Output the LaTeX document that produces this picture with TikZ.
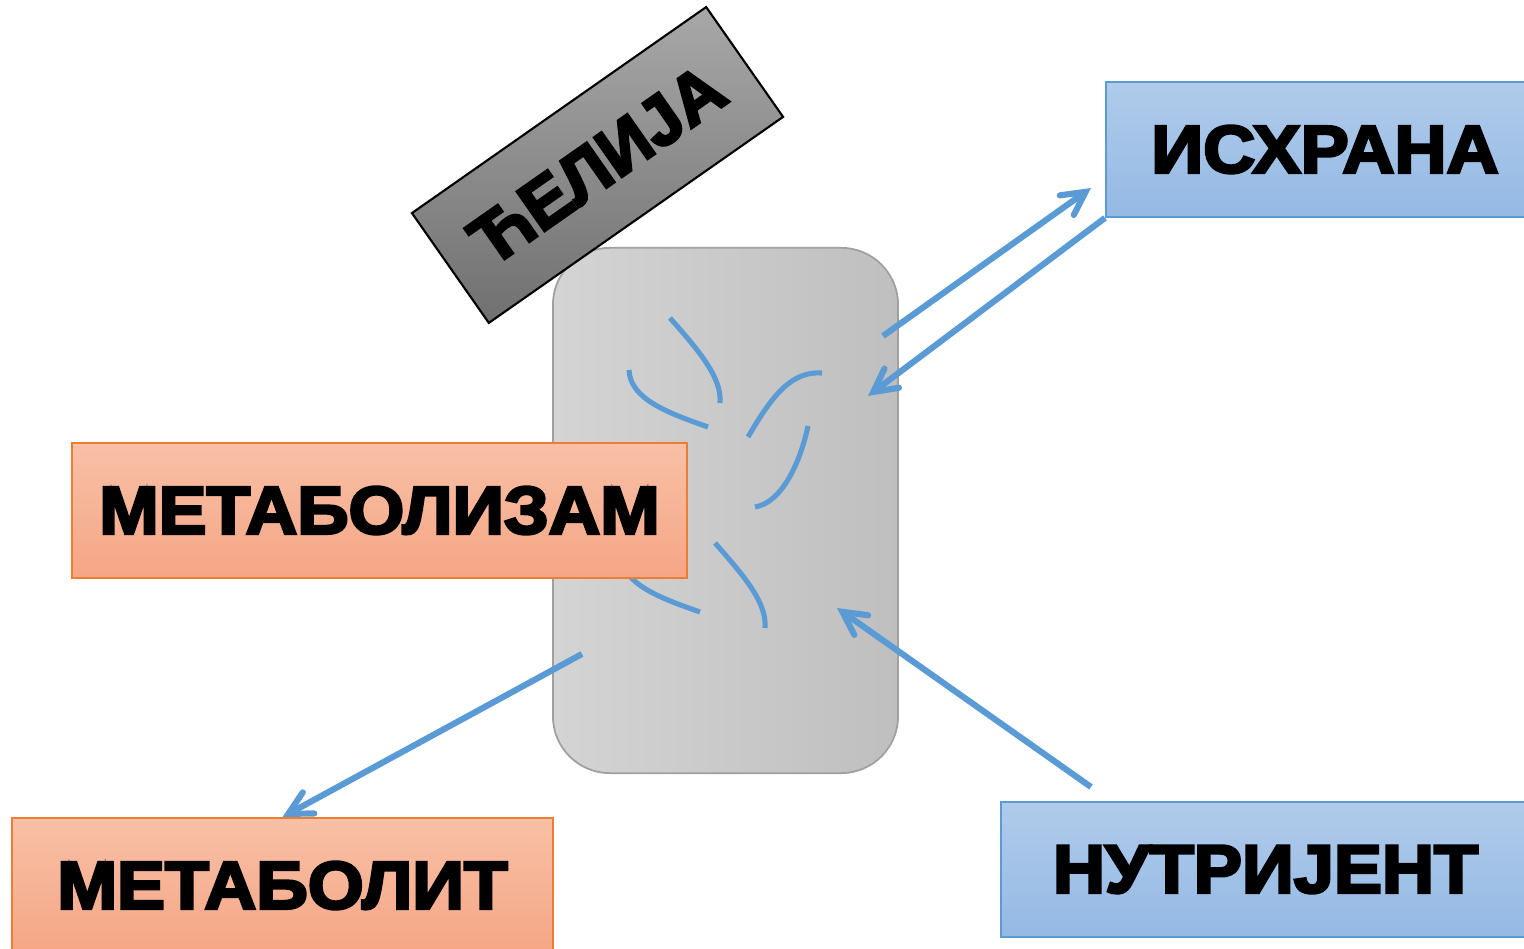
\documentclass[tikz,border=0pt]{standalone}
\usepackage{fontspec}
\usepackage{graphicx}
\usetikzlibrary{arrows.meta}
\newfontfamily\blk{Liberation Sans}[BoldFeatures={FakeBold=4}]
\definecolor{arrowblue}{RGB}{91,155,213}
\definecolor{orTop}{RGB}{248,192,167}
\definecolor{orBot}{RGB}{245,166,132}
\definecolor{orLine}{RGB}{237,125,49}
\definecolor{blTop}{RGB}{176,203,235}
\definecolor{blBot}{RGB}{148,185,228}
\definecolor{blLine}{RGB}{91,155,213}
\definecolor{cellL}{RGB}{212,212,212}
\definecolor{cellR}{RGB}{191,191,191}
\definecolor{cellLine}{RGB}{160,160,160}
\definecolor{grTop}{RGB}{168,168,168}
\definecolor{grBot}{RGB}{112,112,112}
\newcommand{\mylbl}[3]{\resizebox{#1}{#2}{\blk\bfseries #3}}
\begin{document}
\begin{tikzpicture}[x=0.01cm,y=0.01cm,
  orbox/.style={draw=orLine, line width=0.5pt, top color=orTop, bottom color=orBot, inner sep=0pt, minimum height=1.35cm},
  blbox/.style={draw=blLine, line width=0.5pt, top color=blTop, bottom color=blBot, inner sep=0pt, minimum height=1.35cm},
  graybox/.style={draw=black, line width=0.6pt, top color=grTop, bottom color=grBot, inner sep=0pt},
  cellbox/.style={draw=cellLine, line width=0.5pt, left color=cellL, right color=cellR, rounded corners=5.7mm, inner sep=0pt},
  flow/.style={draw=arrowblue, line width=1.75pt, -{Straight Barb[length=2.3mm,width=2.4mm,line cap=round]}},
  strand/.style={draw=arrowblue, line width=1.45pt}]
\useasboundingbox (0,0) rectangle (1524,949);
\fill[white] (0,0) rectangle (1524,949);

% cell
\node (cell) [cellbox, minimum width=3.45cm, minimum height=5.25cm] at (725.5,438.5) {};

% strands inside the cell
\draw[strand] (670,631) .. controls (700,597) and (722,571) .. (720,546);
\draw[strand] (629,579) .. controls (630,550) and (668,536) .. (708,522);
\draw[strand] (748,512) .. controls (773,555) and (792,578) .. (822,576);
\draw[strand] (808,523) .. controls (800,485) and (781,446) .. (755,442);
\draw[strand] (715,406) .. controls (745,372) and (767,346) .. (765,321);
\draw[strand] (621,394) .. controls (622,365) and (660,351) .. (700,337);

% boxes
\node (celija) [graybox, rotate=35, minimum width=3.59cm, minimum height=1.34cm] at (597.5,784) {\mylbl{2.92cm}{0.48cm}{ЋЕЛИЈА}};
\node (metab) [orbox, minimum width=6.15cm] at (379.5,438.5) {\mylbl{5.6cm}{0.47cm}{МЕТАБОЛИЗАМ}};
\node (metlit) [orbox, minimum width=5.41cm] at (282.5,63.5) {\mylbl{4.5cm}{0.47cm}{МЕТАБОЛИТ}};
\node (isx) [blbox, minimum width=4.38cm] at (1325,799.5) {\mylbl{3.47cm}{0.47cm}{ИСХРАНА}};
\node (nut) [blbox, minimum width=5.29cm] at (1265.5,79.5) {\mylbl{4.25cm}{0.47cm}{НУТРИЈЕНТ}};

% arrow end points
\coordinate (a1s) at (883,613);
\coordinate (a1e) at (1091,761);
\coordinate (a2e) at (868,553);
\coordinate (a3s) at (582,295);
\coordinate (a4s) at (1091,162);
\coordinate (a4e) at (837,341);

\draw[flow] (a1s) -- (a1e);
\draw[flow] (isx.south west) -- (a2e);
\draw[flow] (a3s) -- (metlit.north);
\draw[flow] (a4s) -- (a4e);
\end{tikzpicture}
\end{document}
